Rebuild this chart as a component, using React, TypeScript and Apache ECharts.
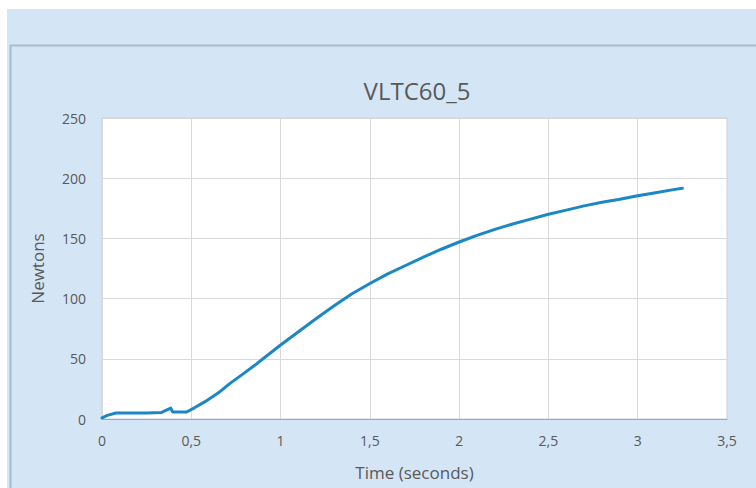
import React, { useEffect, useRef } from "react";
import * as echarts from "echarts";

const chartTitle = "VLTC60_5";
const xAxisName = "Time (seconds)";
const yAxisName = "Newtons";

const timeValues = [
  0, 0.03, 0.078, 0.15, 0.25, 0.334, 0.385, 0.396, 0.474, 0.52, 0.577, 0.65, 0.717, 0.8, 0.857, 0.9,
  1.0, 1.1, 1.2, 1.3, 1.4, 1.5, 1.6, 1.7, 1.8, 1.9, 2.0, 2.1, 2.2, 2.3, 2.4, 2.5, 2.6, 2.7,
  2.8, 2.9, 3.0, 3.1, 3.2, 3.25,
];
const forceValues = [
  1, 3, 5, 5, 5, 5.5, 9, 5.8, 5.8, 9.5, 14.4, 21.5, 29.6, 38.5, 44.8, 49.8,
  61.5, 72.5, 83.5, 94, 104, 112.5, 120.5, 127.5, 134.5, 141, 147, 152.5, 157.5, 162, 166, 170, 173.5, 177,
  180, 182.5, 185.5, 188, 190.5, 191.6,
];

export default function App() {
  const ref = useRef<HTMLDivElement>(null);
  useEffect(() => {
    if (!ref.current) return;
    const chart = echarts.init(ref.current, undefined, { renderer: "svg" });
    const data = timeValues.map((t, i) => [t, forceValues[i]]);
    const textColor = "#595959";
    chart.setOption({
      animation: false,
      backgroundColor: "#ffffff",
      graphic: [
        { type: "rect", z: -10, silent: true, shape: { x: 7, y: 9, width: 760, height: 490 }, style: { fill: "#D4E5F5" } },
        { type: "line", z: -9, silent: true, shape: { x1: 10, y1: 45.5, x2: 760, y2: 45.5 }, style: { stroke: "#A9BCCF", lineWidth: 2 } },
        { type: "line", z: -9, silent: true, shape: { x1: 10.5, y1: 45, x2: 10.5, y2: 490 }, style: { stroke: "#A9BCCF", lineWidth: 2 } },
      ],
      title: {
        text: chartTitle,
        left: 412,
        top: 73,
        textAlign: "center",
        textStyle: { fontFamily: "Open Sans", fontSize: 24, fontWeight: "normal", color: textColor },
      },
      grid: { left: 102, top: 118, right: 29, bottom: 69, show: true, backgroundColor: "#ffffff", borderColor: "#C5D1DC", borderWidth: 1 },
      xAxis: {
        type: "value",
        min: 0,
        max: 3.5,
        interval: 0.5,
        name: xAxisName,
        nameLocation: "middle",
        nameGap: 45,
        nameTextStyle: { fontFamily: "Open Sans", fontSize: 17, color: textColor },
        axisLine: { show: true, lineStyle: { color: "#A6A6A6" } },
        axisTick: { show: false },
        axisLabel: {
          margin: 14,
          fontFamily: "Open Sans",
          fontSize: 14,
          color: textColor,
          formatter: (v: number) => String(v).replace(".", ","),
        },
        splitLine: { show: true, lineStyle: { color: "#D9D9D9" } },
      },
      yAxis: {
        type: "value",
        min: 0,
        max: 250,
        interval: 50,
        name: yAxisName,
        nameLocation: "middle",
        nameGap: 56,
        nameRotate: 90,
        nameTextStyle: { fontFamily: "Open Sans", fontSize: 17, color: textColor },
        axisLine: { show: false },
        axisTick: { show: false },
        axisLabel: { margin: 16, fontFamily: "Open Sans", fontSize: 14, color: textColor },
        splitLine: { show: true, lineStyle: { color: "#D9D9D9" } },
      },
      series: [
        {
          type: "line",
          data,
          showSymbol: false,
          smooth: false,
          lineStyle: { color: "#1B87C5", width: 3, join: "round", cap: "round" },
        },
      ],
    });
    return () => chart.dispose();
  }, []);
  return (
    <div
      ref={ref}
      style={{ position: "fixed", left: 0, top: 0, width: 756, height: 488 }}
    />
  );
}
